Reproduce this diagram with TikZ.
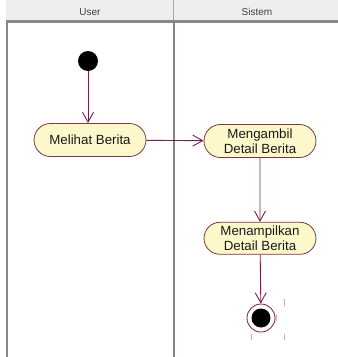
\documentclass[tikz,border=0pt]{standalone}
\usepackage{fontspec}
\setmainfont{Liberation Sans}
\usetikzlibrary{
    arrows.meta,
    positioning,
    shapes.misc
}
\definecolor{headfill}{HTML}{EEEEEE}
\definecolor{headline}{HTML}{888888}
\definecolor{headtext}{HTML}{404040}
\definecolor{lanediv}{HTML}{8E7C92}
\definecolor{flowline}{HTML}{7A1E4A}
\definecolor{actionline}{HTML}{7D3A3A}
\definecolor{actionfill}{HTML}{FCF8CC}
\tikzset{
    every picture/.style = {
        > = {Straight Barb[length = 10pt, width = 11pt]}
    },
    action/.style = {
        rounded rectangle,
        draw = actionline,
        fill = actionfill,
        line width = 0.8pt,
        minimum width = 114pt,
        minimum height = 33pt,
        inner sep = 1pt,
        align = center,
        text = black!90,
        font = {\fontsize{13.3}{15}\selectfont}
    },
    lanetitle/.style = {
        inner sep = 0pt,
        text = headtext,
        font = {\fontsize{10}{12}\selectfont}
    },
    flow/.style = {
        ->,
        draw = flowline,
        line width = 0.9pt
    },
    handle/.style = {
        draw = gray!60,
        line width = 0.9pt
    }
}

\begin{document}
\begin{tikzpicture}[x = 1pt, y = -1pt]
    \useasboundingbox (0,0) rectangle (338,357);

    % swimlanes
    \fill[headfill] (6,0) rectangle (338,20);
    \draw[headline, line width = 3pt] (6,21.5) -- (338,21.5);
    \draw[headline, line width = 2pt] (7,23) -- (7,357);
    \draw[gray!70, line width = 1.5pt] (173.5,0) -- (173.5,20);
    \draw[lanediv, line width = 2pt] (173.5,23) -- (173.5,357);
    \node[lanetitle] (user) at (90,12) {User};
    \node[lanetitle] (sistem) at (257,12) {Sistem};

    % activities
    \node[circle, fill = black, minimum size = 20pt, inner sep = 0pt] (start) at (88,61) {};
    \node[action] (melihat) at (90,140) {Melihat Berita};
    \node[action] (mengambil) at (260,141) {Mengambil\\Detail Berita};
    \node[action, minimum height = 32pt] (menampilkan) [below = 64pt of mengambil] {Menampilkan\\Detail Berita};
    \node[circle, draw = flowline, fill = white, line width = 0.8pt, minimum size = 28pt, inner sep = 0pt,
          path picture = {\fill[black] (path picture bounding box.center) circle (9.5pt);}] (stop) at (261,318) {};

    \path[flow] (start) edge (start |- melihat.north);
    \path[flow] (melihat) edge (mengambil);
    \path[flow] (mengambil) edge (menampilkan);
    \path[flow] (menampilkan) edge (stop);

    % selection handles
    \draw[handle] (284,299) -- (284,306);
    \draw[handle] (276,315) -- (276,321);
    \draw[handle] (251,334) -- (251,340);
    \draw[handle] (284,334) -- (284,340);
\end{tikzpicture}
\end{document}
